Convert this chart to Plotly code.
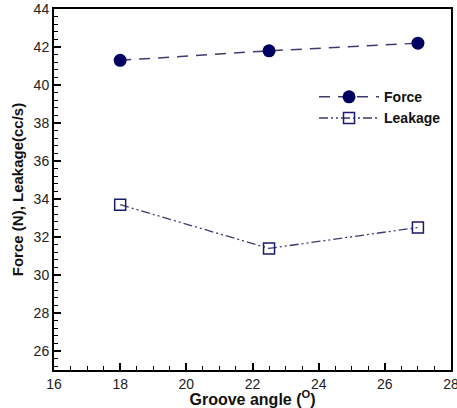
import plotly.graph_objects as go

groove_angle = [18, 22.5, 27]
force = [41.3, 41.8, 42.2]
leakage = [33.7, 31.4, 32.5]

x_ticks = [16, 18, 20, 22, 24, 26, 28]
y_ticks = [26, 28, 30, 32, 34, 36, 38, 40, 42, 44]

FONT = "Liberation Sans, Arial"

fig = go.Figure()
fig.add_trace(go.Scatter(
    x=groove_angle, y=force, name="Force", mode="lines+markers",
    line=dict(color="#3c3c6e", width=1.5, dash="11px,8px"),
    marker=dict(symbol="circle", size=13, color="#000060"),
))
fig.add_trace(go.Scatter(
    x=groove_angle, y=leakage, name="Leakage", mode="lines+markers",
    line=dict(color="#3c3c6e", width=1.3, dash="9px,3px,2px,3px,2px,3px"),
    marker=dict(symbol="square-open", size=11, color="#1a1a70", line=dict(width=1.5)),
))

axis_common = dict(
    showline=True, linecolor="black", linewidth=2, mirror=True,
    ticks="inside", ticklen=7, tickwidth=1.5, tickcolor="black",
    showgrid=False, zeroline=False, ticklabeloverflow="allow",
    tickfont=dict(family=FONT, size=14, color="#222"),
)

fig.update_xaxes(
    range=[16, 28], tickvals=x_ticks,
    minor=dict(ticks="inside", ticklen=4, tickwidth=1, tickcolor="black", dtick=0.5, tick0=16),
    title=dict(text="<b>Groove angle (<sup>O</sup>)</b>", font=dict(family=FONT, size=16, color="#111"), standoff=0),
    **axis_common,
)
fig.update_yaxes(
    range=[25, 44], tickvals=y_ticks,
    minor=dict(ticks="inside", ticklen=4, tickwidth=1, tickcolor="black", dtick=0.4, tick0=26),
    title=dict(text="<b>Force (N), Leakage(cc/s)</b>", font=dict(family=FONT, size=15, color="#111"), standoff=6),
    **axis_common,
)

fig.update_layout(
    width=457, height=408,
    margin=dict(l=54, r=6, t=9, b=38, autoexpand=False),
    paper_bgcolor="white", plot_bgcolor="white",
    showlegend=True,
    legend=dict(
        x=0.655, y=0.80, xanchor="left", yanchor="top",
        bgcolor="rgba(0,0,0,0)", borderwidth=0,
        font=dict(family=FONT, size=14, color="#111", weight="bold"),
        itemwidth=60, tracegroupgap=0,
    ),
)

fig.write_html("out.html")
